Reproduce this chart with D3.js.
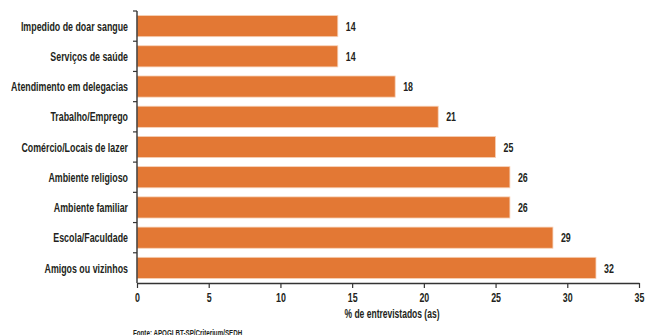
<!DOCTYPE html>
<html>
<head>
<meta charset="utf-8">
<script src="https://cdn.jsdelivr.net/npm/d3@7"></script>
<style>
  body { margin: 0; background: #fff; }
  svg text { font-family: "Liberation Sans", Arial, sans-serif; font-weight: bold; fill: #231f20; }
</style>
</head>
<body>
<svg id="chart" width="652" height="335"></svg>
<script>
// categorias e valores (% de entrevistados)
const categories = ["Impedido de doar sangue", "Serviços de saúde", "Atendimento em delegacias",
  "Trabalho/Emprego", "Comércio/Locais de lazer", "Ambiente religioso", "Ambiente familiar",
  "Escola/Faculdade", "Amigos ou vizinhos"]
const values = [14, 14, 18, 21, 25, 26, 26, 29, 32]
const xTicks = [0, 5, 10, 15, 20, 25, 30, 35]

const margin = { top: 11, left: 137, right: 13, bottom: 52 }
const width = 652, height = 335
const fs = '13.5px'
const svg = d3.select('#chart')

const x = d3.scaleLinear().domain([0, 35]).range([margin.left, width - margin.right])
const y = d3.scaleBand().domain(categories)
  .range([margin.top, height - margin.bottom]).paddingInner(0.3).paddingOuter(0.15)

const data = categories.map((c, i) => ({ cat: c, val: values[i] }))

// fonte condensada: mede um rotulo e comprime na horizontal
const probe = svg.append('text').style('font-size', fs).text('Atendimento em delegacias')
const f = 117 / probe.node().getComputedTextLength()
probe.remove()
function condense(sel) {
  sel.each(function () {
    const t = d3.select(this)
    const tx = +t.attr('x') || 0
    t.attr('transform', `translate(${tx * (1 - f)},0) scale(${f},1)`)
  })
}

// barras
svg.append('g').selectAll('rect')
  .data(data).enter().append('rect')
  .attr('x', x(0))
  .attr('y', d => y(d.cat))
  .attr('width', d => x(d.val) - x(0))
  .attr('height', y.bandwidth())
  .attr('fill', '#e37834')
  .attr('stroke', '#f7d2b8')
  .attr('stroke-width', 0.8)

// rotulos de valor
svg.append('g').selectAll('text')
  .data(data).enter().append('text')
  .attr('x', d => x(d.val) + 8)
  .attr('y', d => y(d.cat) + y.bandwidth() / 2)
  .attr('dy', '0.35em')
  .style('font-size', fs)
  .text(d => d.val)
  .call(condense)

// eixo y (ticks nos limites das faixas)
const yBottom = height - margin.bottom
const gy = svg.append('g')
gy.append('line')
  .attr('x1', x(0)).attr('x2', x(0))
  .attr('y1', margin.top).attr('y2', yBottom)
  .attr('stroke', '#333').attr('stroke-width', 1.4)
const bounds = d3.range(categories.length).map(i => y.range()[0] + i * y.step())
gy.selectAll('.ytick').data(bounds).enter().append('line')
  .attr('x1', x(0) - 4).attr('x2', x(0))
  .attr('y1', d => d).attr('y2', d => d)
  .attr('stroke', '#333').attr('stroke-width', 1.2)
gy.selectAll('.ylab').data(categories).enter().append('text')
  .attr('x', 128)
  .attr('y', d => y(d) + y.bandwidth() / 2)
  .attr('dy', '0.35em')
  .attr('text-anchor', 'end')
  .style('font-size', fs)
  .text(d => d)
  .call(condense)

// eixo x
const xAxis = d3.axisBottom(x).tickValues(xTicks).tickSize(5).tickSizeOuter(0)
const gx = svg.append('g').attr('transform', `translate(0,${yBottom})`).call(xAxis)
gx.select('.domain').attr('stroke', '#333').attr('stroke-width', 1.4)
gx.selectAll('.tick line').attr('stroke', '#333').attr('stroke-width', 1.2)
gx.selectAll('.tick text').attr('y', 9).style('font-size', fs)
  .attr('font-family', null).attr('font-size', null)
  .call(condense)

svg.append('text')
  .attr('x', (x(0) + x(35)) / 2 + 4)
  .attr('y', 318)
  .attr('text-anchor', 'middle')
  .style('font-size', '13px')
  .text('% de entrevistados (as)')
  .call(condense)

svg.append('text')
  .attr('x', 133)
  .attr('y', 336)
  .style('font-size', '9.5px')
  .text('Fonte: APOGLBT-SP/Criterium/SEDH')
  .call(condense)
</script>
</body>
</html>
